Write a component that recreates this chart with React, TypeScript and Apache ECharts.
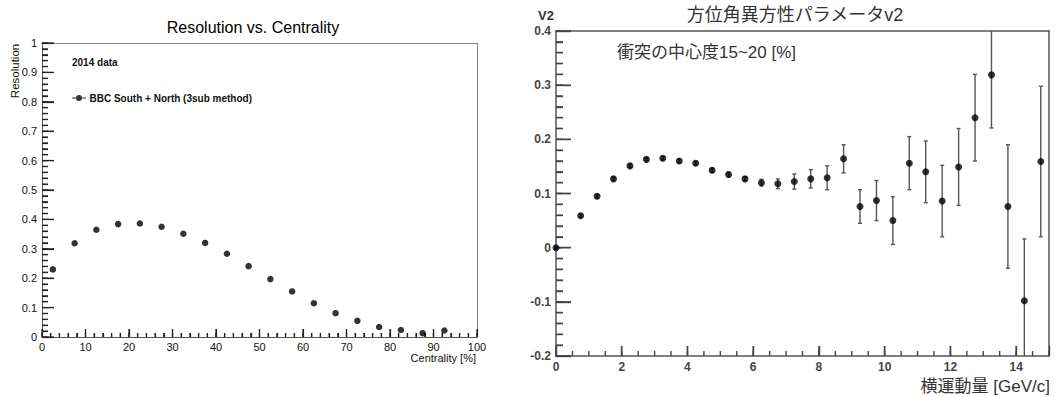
import React, { useEffect, useRef } from "react";
import * as echarts from "echarts";

// ---------- Left panel data ----------
const centrality = [2.5, 7.5, 12.5, 17.5, 22.5, 27.5, 32.5, 37.5, 42.5, 47.5, 52.5, 57.5, 62.5, 67.5, 72.5, 77.5, 82.5, 87.5, 92.5];
const resolution = [0.230, 0.319, 0.365, 0.384, 0.386, 0.375, 0.351, 0.320, 0.283, 0.241, 0.197, 0.155, 0.115, 0.081, 0.055, 0.034, 0.024, 0.013, 0.022];

// ---------- Right panel data ----------
const pT = [0, 0.75, 1.25, 1.75, 2.25, 2.75, 3.25, 3.75, 4.25, 4.75, 5.25, 5.75, 6.25, 6.75, 7.25, 7.75, 8.25, 8.75, 9.25, 9.75, 10.25, 10.75, 11.25, 11.75, 12.25, 12.75, 13.25, 13.75, 14.25, 14.75];
const v2 = [0, 0.059, 0.095, 0.127, 0.151, 0.163, 0.165, 0.160, 0.156, 0.143, 0.135, 0.127, 0.120, 0.118, 0.122, 0.127, 0.129, 0.164, 0.076, 0.087, 0.050, 0.156, 0.140, 0.086, 0.149, 0.240, 0.319, 0.076, -0.098, 0.159];
const v2Err = [0.002, 0.003, 0.003, 0.003, 0.003, 0.003, 0.003, 0.003, 0.003, 0.004, 0.004, 0.004, 0.006, 0.009, 0.014, 0.017, 0.022, 0.026, 0.031, 0.037, 0.044, 0.049, 0.057, 0.066, 0.071, 0.080, 0.098, 0.114, 0.114, 0.139];

// ---------- Axis tick definitions (start, end, step) ----------
const leftXMajor = [0, 100, 10];
const leftXMinor = [0, 100, 2];
const leftYMajor = [0, 1, 0.1];
const leftYMinor = [0, 1, 0.02];
const rightXMajor = [0, 14, 2];
const rightXMinor = [0, 15, 0.5];
const rightYMajor = [-0.2, 0.4, 0.1];
const rightYMinor = [-0.2, 0.4, 0.02];

// ---------- Texts ----------
const leftTitle = "Resolution vs. Centrality";
const leftYName = "Resolution";
const leftXName = "Centrality [%]";
const leftNote = "2014 data";
const leftSeriesName = "BBC South + North (3sub method)";
const rightTitle = "方位角異方性パラメータv2";
const rightYName = "V2";
const rightNote = "衝突の中心度15~20 [%]";
const rightXName = "横運動量 [GeV/c]";

const LAT = '"Liberation Sans", Arial, Helvetica, sans-serif';
const CJK = '"Liberation Sans", "Noto Sans CJK JP", sans-serif';

// grid geometry
const L = { left: 42, top: 43, width: 435, height: 294 };
const R = { left: 556, top: 31, width: 493, height: 325 };

const noLabel = { show: false };
const noSplit = { show: false };
const noTick = { show: false };

function steps(def: number[]): number[] {
  const [a, b, s] = def;
  const n = Math.round((b - a) / s);
  const out: number[] = [];
  for (let i = 0; i <= n; i++) out.push(Math.round((a + i * s) * 1e6) / 1e6);
  return out;
}

// rows: [x, y, lengthPx, orientation(0 = x tick, 1 = y tick)]
function tickRows(xMaj: number[], xMin: number[], yMaj: number[], yMin: number[], lens: number[]) {
  const x0 = xMaj[0];
  const y0 = yMaj[0];
  const rows: number[][] = [];
  steps(xMin).forEach((v) => rows.push([v, y0, lens[1], 0]));
  steps(xMaj).forEach((v) => rows.push([v, y0, lens[0], 0]));
  steps(yMin).forEach((v) => rows.push([x0, v, lens[3], 1]));
  steps(yMaj).forEach((v) => rows.push([x0, v, lens[2], 1]));
  return rows;
}

function tickSeries(gridIdx: number, data: number[][], color: string, width: number) {
  return {
    type: "custom",
    name: "axis ticks " + gridIdx,
    xAxisIndex: gridIdx,
    yAxisIndex: gridIdx,
    data,
    z: 4,
    encode: { x: 0, y: 1 },
    renderItem: (params: any, api: any) => {
      const p = api.coord([api.value(0), api.value(1)]);
      const len = api.value(2);
      const o = api.value(3);
      const st = { stroke: color, lineWidth: width };
      const shape =
        o === 0
          ? { x1: p[0], y1: p[1], x2: p[0], y2: p[1] - len }
          : { x1: p[0], y1: p[1], x2: p[0] + len, y2: p[1] };
      return { type: "group", children: [{ type: "line", shape, style: st }] };
    },
  };
}

export default function App() {
  const ref = useRef<HTMLDivElement>(null);

  useEffect(() => {
    if (!ref.current) return;
    const chart = echarts.init(ref.current, undefined, { renderer: "svg" });

    const leftData = centrality.map((c, i) => [c, resolution[i]]);
    const rightData = pT.map((x, i) => [x, v2[i]]);
    const errData = pT.map((x, i) => [x, v2[i] - v2Err[i], v2[i] + v2Err[i]]);

    const leftTicks = tickRows(leftXMajor, leftXMinor, leftYMajor, leftYMinor, [8, 4, 12, 6]);
    const rightTicks = tickRows(rightXMajor, rightXMinor, rightYMajor, rightYMinor, [10, 5, 15, 7]);

    const legendIcon =
      "path://M0 2.5H4V3.5H0Z M10 2.5H14V3.5H10Z M4 3A3 3 0 1 1 10 3A3 3 0 1 1 4 3Z";

    const frameL = { show: true, onZero: false, lineStyle: { color: "#888", width: 1 } };
    const frameR = { show: true, onZero: false, lineStyle: { color: "#555", width: 1.5 } };

    const option: any = {
      animation: false,
      backgroundColor: "#fff",
      textStyle: { fontFamily: LAT },
      grid: [
        { ...L, show: false },
        { ...R, show: false },
      ],
      xAxis: [
        {
          gridIndex: 0, type: "value", min: 0, max: 100, interval: 10, position: "bottom",
          axisLine: { show: true, onZero: false, lineStyle: { color: "#555", width: 1 } },
          axisTick: { show: true, inside: true, length: 8, lineStyle: { color: "#222", width: 1.2 } },
          minorTick: { show: true, splitNumber: 5, length: 4, lineStyle: { color: "#222", width: 1.2 } },
          axisLabel: { fontSize: 11, color: "#111", margin: 4, fontFamily: LAT, showMinLabel: true, showMaxLabel: true },
          splitLine: noSplit,
        },
        {
          gridIndex: 1, type: "value", min: 0, max: 15, interval: 2, position: "bottom",
          axisLine: { show: true, onZero: false, lineStyle: { color: "#555", width: 1.5 } },
          axisTick: { show: true, inside: true, length: 10, lineStyle: { color: "#444", width: 1.4 } },
          axisLabel: {
            fontSize: 12, fontWeight: "bold", color: "#444", margin: 5, fontFamily: LAT,
            showMinLabel: true, showMaxLabel: true,
            formatter: (v: number) => (v > 14.5 ? "" : String(v)),
          },
          splitLine: noSplit,
        },
        {
          gridIndex: 0, type: "value", min: 0, max: 100, position: "top",
          axisLine: frameL, axisLabel: noLabel, axisTick: noTick, splitLine: noSplit,
        },
        {
          gridIndex: 1, type: "value", min: 0, max: 15, position: "top",
          axisLine: frameR, axisLabel: noLabel, axisTick: noTick, splitLine: noSplit,
        },
      ],
      yAxis: [
        {
          gridIndex: 0, type: "value", min: 0, max: 1, interval: 0.1, position: "left",
          axisLine: { show: true, onZero: false, lineStyle: { color: "#555", width: 1 } },
          axisTick: { show: true, inside: true, length: 12, lineStyle: { color: "#222", width: 1.2 } },
          minorTick: { show: true, splitNumber: 5, length: 6, lineStyle: { color: "#222", width: 1.2 } },
          axisLabel: { fontSize: 11, color: "#111", margin: 5, fontFamily: LAT, showMinLabel: true, showMaxLabel: true },
          splitLine: noSplit,
        },
        {
          gridIndex: 1, type: "value", min: -0.2, max: 0.4, interval: 0.1, position: "left",
          axisLine: { show: true, onZero: false, lineStyle: { color: "#555", width: 1.5 } },
          axisTick: { show: true, inside: true, length: 15, lineStyle: { color: "#444", width: 1.4 } },
          minorTick: { show: true, splitNumber: 5, length: 7, lineStyle: { color: "#444", width: 1.4 } },
          axisLabel: { fontSize: 12, fontWeight: "bold", color: "#444", margin: 5, fontFamily: LAT, showMinLabel: true, showMaxLabel: true },
          splitLine: noSplit,
        },
        {
          gridIndex: 0, type: "value", min: 0, max: 1, position: "right",
          axisLine: frameL, axisLabel: noLabel, axisTick: noTick, splitLine: noSplit,
        },
        {
          gridIndex: 1, type: "value", min: -0.2, max: 0.4, position: "right",
          axisLine: frameR, axisLabel: noLabel, axisTick: noTick, splitLine: noSplit,
        },
      ],
      legend: {
        show: true,
        left: 72,
        top: 93,
        selectedMode: false,
        icon: legendIcon,
        itemWidth: 15,
        itemHeight: 6,
        itemGap: 3,
        padding: 0,
        data: [leftSeriesName],
        textStyle: { fontSize: 10, fontWeight: "bold", color: "#111", fontFamily: LAT, padding: [0, 0, 0, -2] },
      },
      series: [
        {
          name: leftSeriesName,
          type: "scatter",
          xAxisIndex: 0,
          yAxisIndex: 0,
          data: leftData,
          symbol: "circle",
          symbolSize: 6.5,
          itemStyle: { color: "#000" },
          z: 5,
        },
        {
          name: "err",
          type: "custom",
          xAxisIndex: 1,
          yAxisIndex: 1,
          data: errData,
          encode: { x: 0, y: [1, 2] },
          z: 3,
          renderItem: (params: any, api: any) => {
            const x = api.value(0);
            const lo = api.value(1);
            const hi = api.value(2);
            const cs = params.coordSys;
            const top = cs.y;
            const bottom = cs.y + cs.height;
            const pLo = api.coord([x, lo]);
            const pHi = api.coord([x, hi]);
            const px = pLo[0];
            const loClipped = pLo[1] > bottom;
            const hiClipped = pHi[1] < top;
            const yLo = Math.min(pLo[1], bottom);
            const yHi = Math.max(pHi[1], top);
            const st = { stroke: "#555", lineWidth: 1.4 };
            const children: any[] = [
              { type: "line", shape: { x1: px, y1: yHi, x2: px, y2: yLo }, style: st },
            ];
            if (!hiClipped) children.push({ type: "line", shape: { x1: px - 2, y1: yHi, x2: px + 2, y2: yHi }, style: st });
            if (!loClipped) children.push({ type: "line", shape: { x1: px - 2, y1: yLo, x2: px + 2, y2: yLo }, style: st });
            return { type: "group", children };
          },
        },
        {
          name: "v2",
          type: "scatter",
          xAxisIndex: 1,
          yAxisIndex: 1,
          data: rightData,
          symbol: "circle",
          symbolSize: 7,
          itemStyle: { color: "#000" },
          z: 5,
        },
        tickSeries(0, leftTicks, "#222", 1.2),
        tickSeries(1, rightTicks, "#444", 1.4),
      ],
      graphic: [
        { type: "text", x: 253, y: 27, style: { text: leftTitle, fontSize: 16, fontFamily: LAT, fill: "#000", align: "center", verticalAlign: "middle" } },
        { type: "text", x: 15, y: 71, rotation: Math.PI / 2, style: { text: leftYName, fontSize: 11.5, fontFamily: LAT, fill: "#111", align: "center", verticalAlign: "middle" } },
        { type: "text", x: 476, y: 358, style: { text: leftXName, fontSize: 11, fontFamily: LAT, fill: "#111", align: "right", verticalAlign: "middle" } },
        { type: "text", x: 72, y: 62, style: { text: leftNote, fontSize: 10, fontWeight: "bold", fontFamily: LAT, fill: "#111", align: "left", verticalAlign: "middle" } },
        { type: "text", x: 795, y: 15, style: { text: rightTitle, fontSize: 18, fontFamily: CJK, fill: "#333", align: "center", verticalAlign: "middle" } },
        { type: "text", x: 546, y: 15, style: { text: rightYName, fontSize: 13, fontWeight: "bold", fontFamily: LAT, fill: "#333", align: "center", verticalAlign: "middle" } },
        { type: "text", x: 617, y: 52, style: { text: rightNote, fontSize: 17, fontFamily: CJK, fill: "#333", align: "left", verticalAlign: "middle" } },
        { type: "text", x: 1050, y: 386, style: { text: rightXName, fontSize: 17, fontFamily: CJK, fill: "#333", align: "right", verticalAlign: "middle" } },
      ],
    };

    chart.setOption(option);
    return () => chart.dispose();
  }, []);

  return (
    <div
      ref={ref}
      style={{ position: "fixed", left: 0, top: 0, width: 1058, height: 397, background: "#fff" }}
    />
  );
}
